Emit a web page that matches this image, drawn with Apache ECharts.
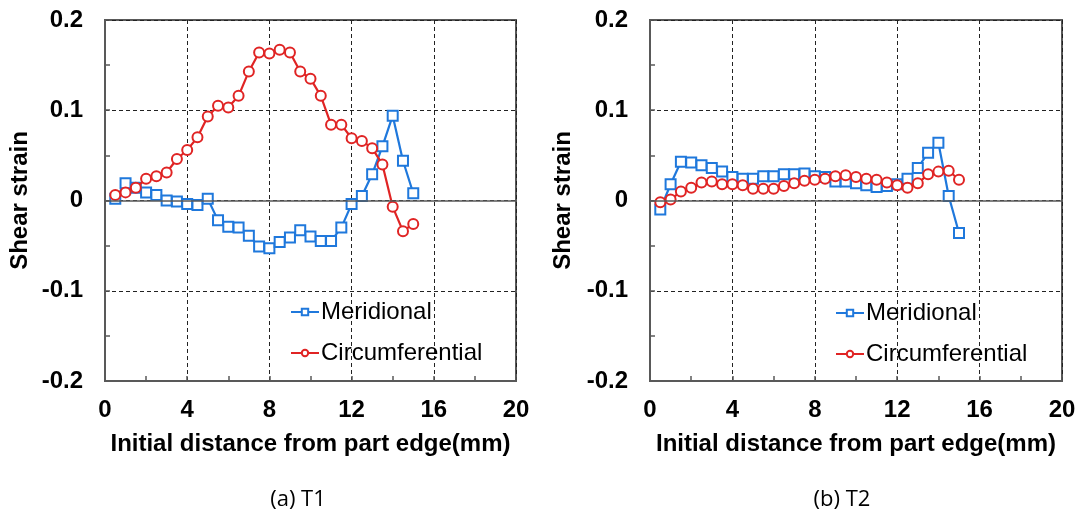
<!DOCTYPE html>
<html>
<head>
<meta charset="utf-8">
<script src="https://cdn.jsdelivr.net/npm/echarts@6/dist/echarts.min.js"></script>
<style>
  html, body { margin: 0; padding: 0; background: #fff; }
  #chart { width: 1083px; height: 511px; }
</style>
</head>
<body>
<div id="chart"></div>
<script>
// initial distance (mm), same for every series
const distance = [0.5, 1, 1.5, 2, 2.5, 3, 3.5, 4, 4.5, 5, 5.5, 6, 6.5, 7, 7.5, 8,
  8.5, 9, 9.5, 10, 10.5, 11, 11.5, 12, 12.5, 13, 13.5, 14, 14.5, 15]

// (a) T1
const t1Meridional = [0.002, 0.019, 0.014, 0.009, 0.006, 0.0, -0.001, -0.004, -0.005, 0.002,
  -0.022, -0.029, -0.030, -0.039, -0.051, -0.053, -0.046, -0.041, -0.033, -0.040,
  -0.045, -0.045, -0.030, -0.004, 0.005, 0.029, 0.060, 0.094, 0.044, 0.008]
const t1Circumferential = [0.006, 0.009, 0.014, 0.024, 0.027, 0.031, 0.046, 0.056, 0.070, 0.093,
  0.105, 0.103, 0.116, 0.143, 0.164, 0.163, 0.167, 0.164, 0.143, 0.135,
  0.116, 0.084, 0.084, 0.069, 0.066, 0.058, 0.040, -0.007, -0.034, -0.026]

// (b) T2
const t2Meridional = [-0.010, 0.018, 0.043, 0.042, 0.039, 0.036, 0.032, 0.026, 0.024, 0.024,
  0.027, 0.027, 0.029, 0.029, 0.030, 0.027, 0.026, 0.021, 0.021, 0.019,
  0.017, 0.015, 0.016, 0.018, 0.024, 0.036, 0.053, 0.064, 0.005, -0.036]
const t2Circumferential = [-0.002, 0.001, 0.010, 0.014, 0.020, 0.021, 0.018, 0.018, 0.017, 0.013,
  0.013, 0.013, 0.016, 0.019, 0.022, 0.023, 0.024, 0.027, 0.028, 0.026,
  0.024, 0.023, 0.020, 0.017, 0.014, 0.019, 0.029, 0.032, 0.033, 0.023]

const xTicks = [0, 4, 8, 12, 16, 20]
const yTicks = [-0.2, -0.1, 0, 0.1, 0.2]

const BLUE = '#1f78dc'
const RED = '#e02424'
const AXIS = '#595959'
const FONT = 'Liberation Sans, Arial, sans-serif'

const chart = echarts.init(document.getElementById('chart'))

const zip = (ys) => distance.map((x, i) => [x, ys[i]])

const makeX = (gridIndex) => ({
  type: 'value',
  gridIndex,
  min: xTicks[0],
  max: xTicks[xTicks.length - 1],
  interval: 4,
  axisLine: { show: true, onZero: false, lineStyle: { color: AXIS, width: 2 } },
  axisTick: { show: true, inside: true, length: 5, lineStyle: { color: AXIS, width: 1.5 } },
  minorTick: { show: true, splitNumber: 2, length: 5, lineStyle: { color: AXIS, width: 1.5 } },
  axisLabel: { fontFamily: FONT, fontWeight: 'bold', fontSize: 24, color: '#000', margin: 17 },
  splitLine: { show: true, lineStyle: { color: '#222', type: [4, 3], width: 1 } },
  name: 'Initial distance from part edge(mm)',
  nameLocation: 'middle',
  nameGap: 51,
  nameTextStyle: { fontFamily: FONT, fontWeight: 'bold', fontSize: 24, color: '#000' },
})

const makeY = (gridIndex, gap) => ({
  type: 'value',
  gridIndex,
  min: yTicks[0],
  max: yTicks[yTicks.length - 1],
  interval: 0.1,
  axisLine: { show: true, onZero: false, lineStyle: { color: AXIS, width: 2 } },
  axisTick: { show: true, inside: true, length: 5, lineStyle: { color: AXIS, width: 1.5 } },
  minorTick: { show: true, splitNumber: 2, length: 5, lineStyle: { color: AXIS, width: 1.5 } },
  axisLabel: {
    fontFamily: FONT, fontWeight: 'bold', fontSize: 24, color: '#000', margin: 22,
    formatter: (v) => String(Math.round(v * 10) / 10),
  },
  splitLine: { show: true, lineStyle: { color: '#222', type: [4, 3], width: 1 } },
  name: 'Shear strain',
  nameLocation: 'middle',
  nameGap: gap,
  nameTextStyle: { fontFamily: FONT, fontWeight: 'bold', fontSize: 24, color: '#000' },
})

const zeroLine = {
  silent: true,
  symbol: 'none',
  label: { show: false },
  lineStyle: { color: AXIS, type: 'solid', width: 1.5 },
  data: [{ yAxis: 0 }],
}

const makeSeries = (name, data, idx, color, symbol, withZero) => ({
  name,
  type: 'line',
  xAxisIndex: idx,
  yAxisIndex: idx,
  data: zip(data),
  symbol,
  symbolSize: 10,
  showAllSymbol: true,
  lineStyle: { color, width: 2.2 },
  itemStyle: { color: '#fff', borderColor: color, borderWidth: 2 },
  emphasis: { disabled: true },
  markLine: withZero ? zeroLine : undefined,
  z: symbol === 'rect' ? 3 : 4,
})

const legendBase = {
  orient: 'vertical',
  itemWidth: 28,
  itemHeight: 8,
  itemGap: 17,
  padding: 0,
  textStyle: { fontFamily: FONT, fontSize: 24, lineHeight: 24, color: '#000', padding: [0, 0, 0, -3] },
  data: ['Meridional', 'Circumferential'],
}

chart.setOption({
  animation: false,
  backgroundColor: '#fff',
  grid: [
    { left: 105, top: 20, width: 411, height: 361, show: true, borderColor: AXIS, borderWidth: 2 },
    { left: 650, top: 20, width: 412, height: 361, show: true, borderColor: AXIS, borderWidth: 2 },
  ],
  xAxis: [makeX(0), makeX(1)],
  yAxis: [makeY(0, 73), makeY(1, 75)],
  legend: [
    Object.assign({}, legendBase, { left: 290, top: 300 }),
    Object.assign({}, legendBase, { left: 835, top: 301 }),
  ],
  graphic: [
    { type: 'text', x: 298, y: 500, style: { text: '(a) T1', font: '22px "Open Sans", sans-serif', fill: '#000', align: 'center', verticalAlign: 'middle' } },
    { type: 'text', x: 842, y: 500, style: { text: '(b) T2', font: '22px "Open Sans", sans-serif', fill: '#000', align: 'center', verticalAlign: 'middle' } },
  ],
  series: [
    makeSeries('Meridional', t1Meridional, 0, BLUE, 'rect', true),
    makeSeries('Circumferential', t1Circumferential, 0, RED, 'circle', false),
    makeSeries('Meridional', t2Meridional, 1, BLUE, 'rect', true),
    makeSeries('Circumferential', t2Circumferential, 1, RED, 'circle', false),
  ],
})
</script>
</body>
</html>
